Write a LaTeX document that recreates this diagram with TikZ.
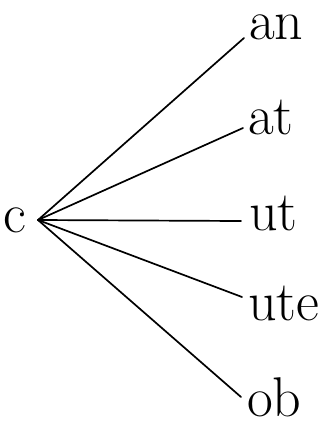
\documentclass[tikz,border=0pt]{standalone}
\begin{document}
\begin{tikzpicture}[x=1pt,y=-1pt,
  lbl/.style={anchor=base west,inner sep=0pt,font=\fontsize{56}{64}\selectfont},
  branch/.style={line width=1.7pt,line cap=round}]
\useasboundingbox (0,0) rectangle (331,429);
\node[lbl] (c) at (3,232) {c};
\coordinate (v) at (38,220);
\node[lbl] (an) at (249,39) {an};
\node[lbl] (at) at (248,134) {at};
\node[lbl] (ut) at (249,230) {ut};
\node[lbl] (ute) at (248,320) {ute};
\node[lbl] (ob) at (247,416) {ob};
\coordinate (e1) at (244,38);
\coordinate (e2) at (243,128);
\coordinate (e3) at (241,221);
\coordinate (e4) at (242,297);
\coordinate (e5) at (241,397);
\foreach \e in {e1,e2,e3,e4,e5} \draw[branch] (v) -- (\e);
\end{tikzpicture}
\end{document}
